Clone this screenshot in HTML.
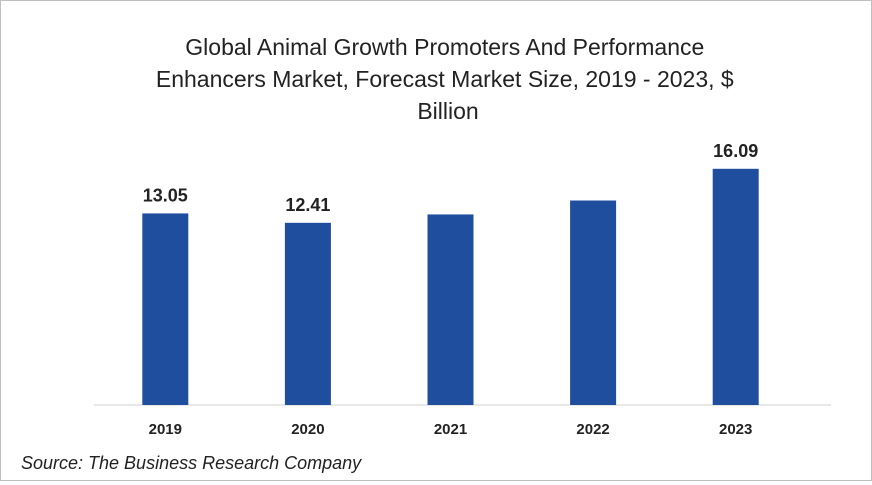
<!DOCTYPE html>
<html><head><meta charset="utf-8"><style>
body{margin:0;background:#fff}
#c{position:relative;width:872px;height:481px;box-sizing:border-box;border:1px solid #bfbfbf;background:#fff;font-family:"Liberation Sans",Calibri,sans-serif}
</style></head><body>
<div id="c">
<svg id="s" width="870" height="479">
<text x="447" y="54" text-anchor="middle" font-size="23" fill="#222">
<tspan x="447" y="54">Global Animal Growth Promoters And Performance</tspan>
<tspan x="447" y="86">Enhancers Market, Forecast Market Size, 2019 - 2023, $</tspan>
<tspan x="447" y="118">Billion</tspan></text>
<line x1="93" y1="404" x2="830" y2="404" stroke="#d0d0d0" stroke-width="1"/>
<text x="20" y="468" font-size="18" font-style="italic" fill="#222">Source: The Business Research Company</text>
</svg>
</div>
<script>
const categories=["2019","2020","2021","2022","2023"];
const values=[13.05,12.41,12.98,13.93,16.09];
const labels=["13.05","12.41","","","16.09"];
const svg=document.getElementById('s');
const NS="http://www.w3.org/2000/svg";
const base=404, ppu=14.68, left=93, step=142.6, bw=46;
function x(i){return left+step*i+step/2;}
function y(v){return base-v*ppu;}
categories.forEach((c,i)=>{
  const r=document.createElementNS(NS,'rect');
  r.setAttribute('x',x(i)-bw/2);r.setAttribute('y',y(values[i]));
  r.setAttribute('width',bw);r.setAttribute('height',base-y(values[i]));
  r.setAttribute('fill','#1f4e9f');
  
  
  svg.appendChild(r);
  const t=document.createElementNS(NS,'text');
  t.setAttribute('x',x(i));t.setAttribute('y',433);t.setAttribute('text-anchor','middle');
  t.setAttribute('font-size','15');t.setAttribute('font-weight','bold');t.setAttribute('fill','#222');
  t.textContent=c;
  
  
  svg.appendChild(t);
  if(labels[i]){
    const l=document.createElementNS(NS,'text');
    l.setAttribute('x',x(i));l.setAttribute('y',y(values[i])-12);l.setAttribute('text-anchor','middle');
    l.setAttribute('font-size','18');l.setAttribute('font-weight','bold');l.setAttribute('fill','#222');
    l.textContent=labels[i];
    
    
    svg.appendChild(l);
  }
});
</script>
</body></html>
